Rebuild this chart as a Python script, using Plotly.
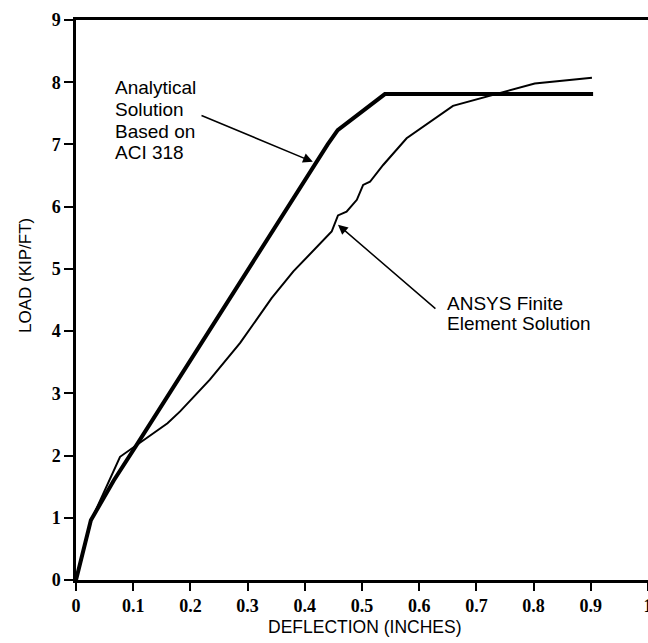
import plotly.graph_objects as go

# Analytical solution (ACI 318)
analytical_x = [0.0, 0.026, 0.066, 0.108, 0.44, 0.4575, 0.54, 0.904]
analytical_y = [0.0, 0.96, 1.6, 2.2, 7.0, 7.23, 7.81, 7.81]

# ANSYS finite element solution
ansys_x = [0.0, 0.026, 0.077, 0.094, 0.16, 0.182, 0.234, 0.287, 0.342, 0.38,
           0.447, 0.458, 0.473, 0.491, 0.502, 0.514, 0.537, 0.578, 0.659, 0.802, 0.902]
ansys_y = [0.0, 0.95, 1.98, 2.09, 2.52, 2.71, 3.22, 3.81, 4.53, 4.96,
           5.6, 5.86, 5.92, 6.11, 6.35, 6.4, 6.67, 7.1, 7.62, 7.98, 8.07]

x_ticks = [0, 0.1, 0.2, 0.3, 0.4, 0.5, 0.6, 0.7, 0.8, 0.9, 1]
x_tick_labels = ["0", "0.1", "0.2", "0.3", "0.4", "0.5", "0.6", "0.7", "0.8", "0.9", "1"]
y_ticks = [0, 1, 2, 3, 4, 5, 6, 7, 8, 9]

analytical_label = ["Analytical", "Solution", "Based on", "ACI 318"]
ansys_label = ["ANSYS Finite", "Element Solution"]

fig = go.Figure()
fig.add_trace(go.Scatter(x=analytical_x, y=analytical_y, mode="lines",
                         line=dict(color="black", width=4), showlegend=False))
fig.add_trace(go.Scatter(x=ansys_x, y=ansys_y, mode="lines",
                         line=dict(color="black", width=2), showlegend=False))

txt_font = dict(family="Liberation Sans, Arial, sans-serif", size=19, color="black")

for i, t in enumerate(analytical_label):
    fig.add_annotation(x=0.0647, y=7.91 - i * 0.347, xref="x", yref="y", text=t,
                       showarrow=False, xanchor="left", yanchor="middle", font=txt_font)
for i, t in enumerate(ansys_label):
    fig.add_annotation(x=0.645, y=4.45 - i * 0.33, xref="x", yref="y", text=t,
                       showarrow=False, xanchor="left", yanchor="middle", font=txt_font)

# Arrows
fig.add_annotation(x=0.414, y=6.72, ax=0.2168, ay=7.476, xref="x", yref="y",
                   axref="x", ayref="y", text="", showarrow=True,
                   arrowhead=2, arrowsize=1.3, arrowwidth=1.5, arrowcolor="black")
fig.add_annotation(x=0.458, y=5.71, ax=0.631, ay=4.34, xref="x", yref="y",
                   axref="x", ayref="y", text="", showarrow=True,
                   arrowhead=2, arrowsize=1.3, arrowwidth=1.5, arrowcolor="black")

# Axis titles
fig.add_annotation(x=-0.0892, y=0.5446, xref="paper", yref="paper", text="LOAD (KIP/FT)",
                   textangle=-90, showarrow=False, xanchor="center", yanchor="middle",
                   font=dict(family="Liberation Sans, Arial, sans-serif", size=17, color="black"))
fig.add_annotation(x=0.505, y=-0.0839, xref="paper", yref="paper", text="DEFLECTION (INCHES)",
                   showarrow=False, xanchor="center", yanchor="middle",
                   font=dict(family="Liberation Sans, Arial, sans-serif", size=17.5, color="black"))

tick_font = dict(family="Liberation Serif, Times New Roman, serif", size=18, color="black", weight="bold")

fig.update_xaxes(range=[0, 1], tickmode="array", tickvals=x_ticks, ticktext=x_tick_labels,
                 ticks="outside", ticklen=8, tickwidth=2, tickcolor="black",
                 showline=True, linewidth=2.5, linecolor="black", mirror=True,
                 showgrid=False, zeroline=False, tickfont=tick_font,
                 ticklabeloverflow="allow", automargin=False)
fig.update_yaxes(range=[0, 9], tickmode="array", tickvals=y_ticks,
                 ticks="outside", ticklen=9, tickwidth=2, tickcolor="black",
                 showline=True, linewidth=2.5, linecolor="black", mirror=False,
                 showgrid=False, zeroline=False, tickfont=tick_font, automargin=False)

fig.update_layout(width=648, height=643, margin=dict(l=76, r=0, t=20, b=63),
                  plot_bgcolor="white", paper_bgcolor="white", showlegend=False)

fig.write_html("out.html")
